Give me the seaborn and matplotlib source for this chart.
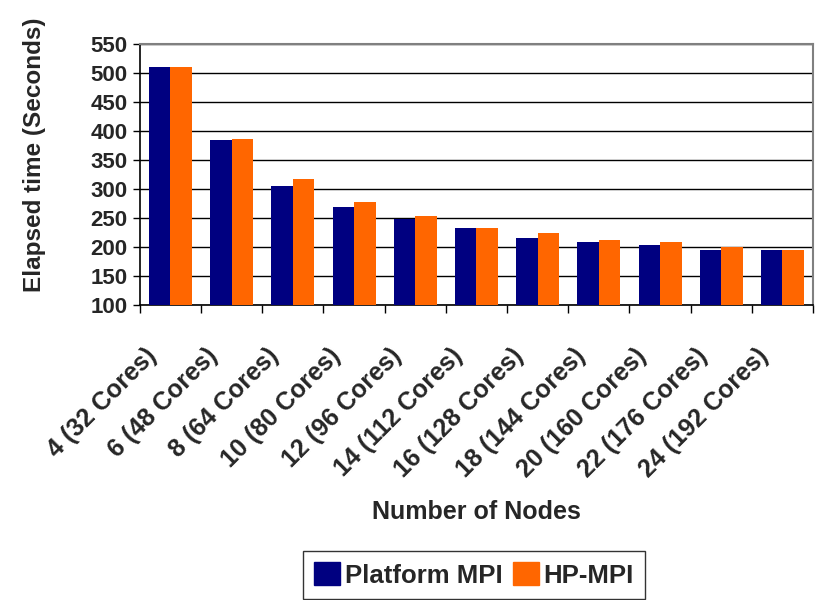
import matplotlib
matplotlib.use("Agg")
import matplotlib.pyplot as plt
import matplotlib.transforms as mtransforms
import seaborn as sns
import pandas as pd
import numpy as np
from matplotlib.patches import Patch

categories = ["4 (32 Cores)", "6 (48 Cores)", "8 (64 Cores)", "10 (80 Cores)", "12 (96 Cores)",
              "14 (112 Cores)", "16 (128 Cores)", "18 (144 Cores)", "20 (160 Cores)",
              "22 (176 Cores)", "24 (192 Cores)"]
platform_mpi = [510, 384, 305, 269, 248, 232, 216, 208, 203, 195, 195]
hp_mpi = [510, 387, 318, 277, 253, 232, 224, 212, 208, 200, 195]
series_names = ["Platform MPI", "HP-MPI"]
colors = ["#000080", "#FF6600"]

df = pd.DataFrame({
    "Nodes": categories * 2,
    "Time": platform_mpi + hp_mpi,
    "Series": [series_names[0]] * len(categories) + [series_names[1]] * len(categories),
})

sns.set_style("white")
plt.rcParams['font.family'] = ['Liberation Sans', 'DejaVu Sans']

fig = plt.figure(figsize=(8.18, 6), dpi=100)
ax = fig.add_axes([0.171, 0.4917, 0.823, 0.435])

sns.barplot(data=df, x="Nodes", y="Time", hue="Series", palette=colors,
            width=0.7, ax=ax, saturation=1, legend=False, zorder=3,
            edgecolor="none", linewidth=0)

ax.set_ylim(100, 550)
ax.set_yticks(np.arange(100, 551, 50))
ax.set_xlim(-0.5, len(categories) - 0.5)
ax.yaxis.grid(True, color="black", linewidth=1, zorder=0)
ax.set_axisbelow(True)

for lab in ax.get_yticklabels():
    lab.set_fontweight("bold")
    lab.set_fontsize(16)
ax.tick_params(axis="y", direction="out", length=5, width=1, color="black", pad=4, left=True)

ax.set_xticks(range(len(categories)))
ax.set_xticklabels(categories, rotation=45, ha="right", va="top", rotation_mode="anchor",
                   fontsize=18, fontweight="bold")
ax.tick_params(axis="x", which="major", length=0, pad=12)
offset = mtransforms.ScaledTranslation(-0.26, -0.22, fig.dpi_scale_trans)
for lab in ax.get_xticklabels():
    lab.set_transform(lab.get_transform() + offset)
ax.set_xticks(np.arange(-0.5, len(categories), 1), minor=True)
ax.tick_params(axis="x", which="minor", direction="out", length=6, width=1, color="black", bottom=True)

ax.set_ylabel("Elapsed time (Seconds)", fontsize=17.5, fontweight="bold", va="center")
ax.yaxis.set_label_coords(-0.156, 0.575)
ax.set_xlabel("Number of Nodes", fontsize=18, fontweight="bold", va="center")
ax.xaxis.set_label_coords(0.5, -0.793)

for side in ["top", "right"]:
    ax.spines[side].set_color("#808080")
    ax.spines[side].set_linewidth(1.5)
for side in ["left", "bottom"]:
    ax.spines[side].set_color("black")
    ax.spines[side].set_linewidth(1.2)

handles = [Patch(facecolor=c, edgecolor=c) for c in colors]
leg = fig.legend(handles, series_names, loc="center", bbox_to_anchor=(474 / 818, 1 - 575 / 600),
                 ncol=2, frameon=True, fancybox=False, edgecolor="black",
                 prop={"weight": "bold", "size": 18.5}, handlelength=1.0, handleheight=1.0,
                 handletextpad=0.2, columnspacing=0.4, borderpad=0.45, borderaxespad=0)
leg.get_frame().set_linewidth(1)

fig.savefig("out.png", dpi=100)
